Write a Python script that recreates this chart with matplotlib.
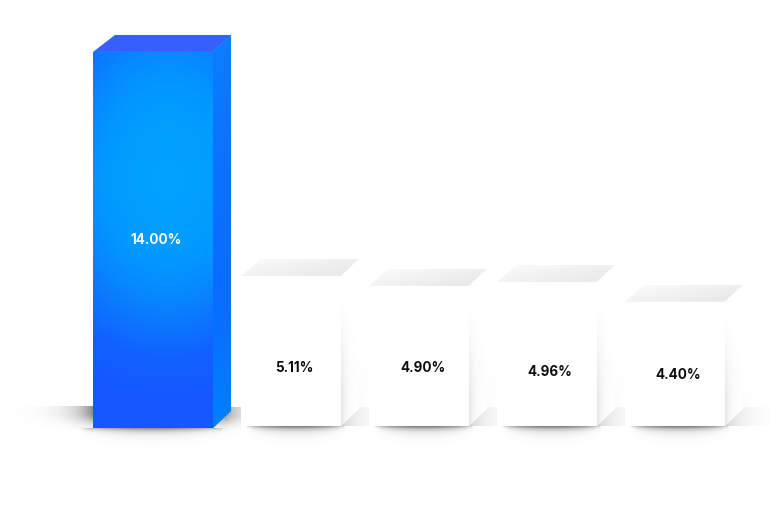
import numpy as np
import matplotlib
matplotlib.use("Agg")
import matplotlib.pyplot as plt
from matplotlib.patches import Polygon
from matplotlib.colors import LinearSegmentedColormap

# Data
value_labels = ["14.00%", "5.11%", "4.90%", "4.96%", "4.40%"]
# drawn bar heights, in percent at the blue bar's scale (the graphic is not strictly proportional)
bar_heights = [14.0, 5.66, 5.29, 5.44, 4.70]
# label heights, in the same units
label_levels = [7.0, 2.22, 2.22, 2.09, 1.97]
label_offsets = [3, 3, 4, 3, 3]     # px, horizontal

W, H = 778, 519
PX_X, PX_Y = 128.0, 26.86
X0, BASE = 163.0, 428.0
centers_px = [153, 291, 419, 547, 675]
widths_px = [120, 100, 100, 100, 100]
BLUE_DX, BLUE_DY = 18, 17
WHITE_DX, WHITE_DY = 18, 17

fig = plt.figure(figsize=(W / 100, H / 100), dpi=100, facecolor="white")

# ---- soft floor shadows, painted in pixel space behind the bars
bg = fig.add_axes([0, 0, 1, 1], zorder=0)
bg.set_axis_off()
yy, xx = np.mgrid[0:H, 0:W] + 0.5
dark = np.zeros((H, W))

def add(layer):
    global dark
    dark = 1 - (1 - dark) * (1 - np.clip(layer, 0, 1))

def sstep(t):
    t = np.clip(t, 0, 1)
    return t * t * (3 - 2 * t)

# under-bar contact shadows: thin lens shapes
for c, w, b, a, sh, k in [(153, 120, 428, .50, 0, .60), (291, 100, 426, .60, 5, .50), (419, 100, 426, .60, 5, .50),
                          (547, 100, 426, .60, 5, .50), (675, 100, 426, .60, 5, .50)]:
    rx = w * k
    u = np.clip(np.abs(xx - c - sh) / rx, 0, 1)
    lens = np.sqrt(1 - u ** 2)
    thick = 0.3 + 3.0 * lens
    add(a * lens * np.exp(-np.clip(yy - b, 0, None) / thick) * (yy >= b))
    add(.05 * lens * np.exp(-np.clip(yy - b, 0, None) / 8) * (yy >= b))

# floor shadow left of the blue bar
add(.50 * np.exp(-np.clip(93 - xx, 0, None) / 17) * (xx < 93) * (yy >= 406)
    * np.exp(-(np.clip(yy - 412, 0, None) / 11) ** 2))
# floor shadow right of the blue bar
add(.42 * np.exp(-np.clip(xx - 225, 0, None) / 16) * (xx >= 213) * (xx < 241) * (yy >= 407)
    * np.exp(-(np.clip(yy - 413, 0, None) / 11) ** 2))

# floor and wall shadows right of the white bars
for right, top in [(341, 276), (469, 286), (597, 281), (725, 301)]:
    dx = np.clip(xx - right, 0, None)
    add(.20 * np.exp(-dx / 15) * (xx >= right) * (yy >= 407) * (yy < 426) * (xx < right + 45))
    wall = (xx >= right) * (xx < right + 28) * (yy < 407)
    add(.08 * np.exp(-dx / 10) * wall * sstep((yy - (top + 35)) / 90))

rgba = np.ones((H, W, 4))
rgba[..., 0:3] = 0.07
rgba[..., 3] = dark
bg.imshow(rgba, extent=(0, W, H, 0), aspect="auto", interpolation="bilinear")
bg.set_xlim(0, W)
bg.set_ylim(H, 0)

# ---- bars on a transparent axes with data scales
ax = fig.add_axes([0, 0, 1, 1], zorder=1)
ax.patch.set_alpha(0)
ax.set_axis_off()
xlim = ((0 - X0) / PX_X, (W - X0) / PX_X)
ylim = ((BASE - H) / PX_Y, BASE / PX_Y)

def xd(px):
    return (px - X0) / PX_X

def yd(py):
    return (BASE - py) / PX_Y

blue_cmap = LinearSegmentedColormap.from_list(
    "blue", ["#00a2ff", "#0399ff", "#0a7eff", "#1262ff", "#1558ff"])

for i, (h, lab, lev, off) in enumerate(zip(bar_heights, value_labels, label_levels, label_offsets)):
    c, w = centers_px[i], widths_px[i]
    L, R = c - w / 2, c + w / 2
    is_blue = i == 0
    bottom = 0.0 if is_blue else yd(426)
    bar = ax.bar(xd(c), h - bottom, bottom=bottom, width=w / PX_X,
                 color="#ffffff" if not is_blue else "#0a84ff", linewidth=0, zorder=3)[0]
    ddx, ddy = (BLUE_DX, BLUE_DY) if is_blue else (WHITE_DX, WHITE_DY)
    ddx_d, ddy_d = ddx / PX_X, ddy / PX_Y
    l, r = xd(L), xd(R)
    base_d = bottom
    if is_blue:
        # front gradient
        gy, gx = np.mgrid[0:376, 0:120] + 0.5
        ry = np.where(gy < 130, 250.0, 215.0)
        d = np.sqrt(((gx - 75) / 170) ** 2 + ((gy - 130) / ry) ** 2) ** 1.4
        im = ax.imshow(np.clip(d, 0, 1), extent=(l, r, 0, h), cmap=blue_cmap, vmin=0, vmax=1,
                       aspect="auto", zorder=4, interpolation="bilinear")
        im.set_clip_path(bar)
        ax.add_patch(Polygon([(l, h), (l + 22 / PX_X, h + ddy_d), (r + ddx_d, h + ddy_d), (r, h)],
                             closed=True, fc="#3560ff", ec="none", zorder=4))
        side = Polygon([(r, 0), (r + ddx_d, ddy_d), (r + ddx_d, h + ddy_d), (r, h)],
                       closed=True, fc="#0a70ff", ec="none", zorder=4)
        ax.add_patch(side)
        grad = np.linspace(0, 1, 256)[:, None]
        side_cmap = LinearSegmentedColormap.from_list("s", ["#0a7eff", "#0a72ff", "#0a6cff", "#0080ff"])
        sim = ax.imshow(grad, extent=(r, r + ddx_d, 0, h + ddy_d), cmap=side_cmap, aspect="auto",
                        origin="upper", zorder=5)
        sim.set_clip_path(side)
    else:
        # top face
        top = Polygon([(l, h), (l + 20 / PX_X, h + ddy_d), (r + ddx_d, h + ddy_d), (r, h)],
                      closed=True, fc="none", ec="none", zorder=4)
        ax.add_patch(top)
        gy, gx = np.mgrid[0:40, 0:120] + 0.5
        tone = 0.985 - 0.07 * np.clip(gx / 120 * 0.7 + gy / 40 * 0.5, 0, 1)
        tim = ax.imshow(tone, extent=(l, r + ddx_d, h, h + ddy_d), cmap="gray", vmin=0, vmax=1,
                        aspect="auto", origin="upper", zorder=4)
        tim.set_clip_path(top)
        # side face
        side = Polygon([(r, base_d), (r + ddx_d, base_d + ddy_d), (r + ddx_d, h + ddy_d), (r, h)],
                       closed=True, fc="none", ec="none", zorder=4)
        ax.add_patch(side)
        n = 150
        gy, gx = np.mgrid[0:n, 0:40] + 0.5
        tone = 1 - 0.10 * np.exp(-gx / 12) * sstep((gy - 25) / 105)
        sim = ax.imshow(tone, extent=(r, r + ddx_d, base_d, h + ddy_d), cmap="gray", vmin=0, vmax=1,
                        aspect="auto", origin="upper", zorder=4)
        sim.set_clip_path(side)
    ax.text(xd(c + off), lev, lab, ha="center", va="center",
            color="white" if is_blue else "#0c0c0c", fontsize=9.7, fontweight="bold",
            family=["Inter", "DejaVu Sans"], zorder=6)

ax.set_xlim(*xlim)
ax.set_ylim(*ylim)
fig.savefig("out.png", dpi=100, facecolor="white")
